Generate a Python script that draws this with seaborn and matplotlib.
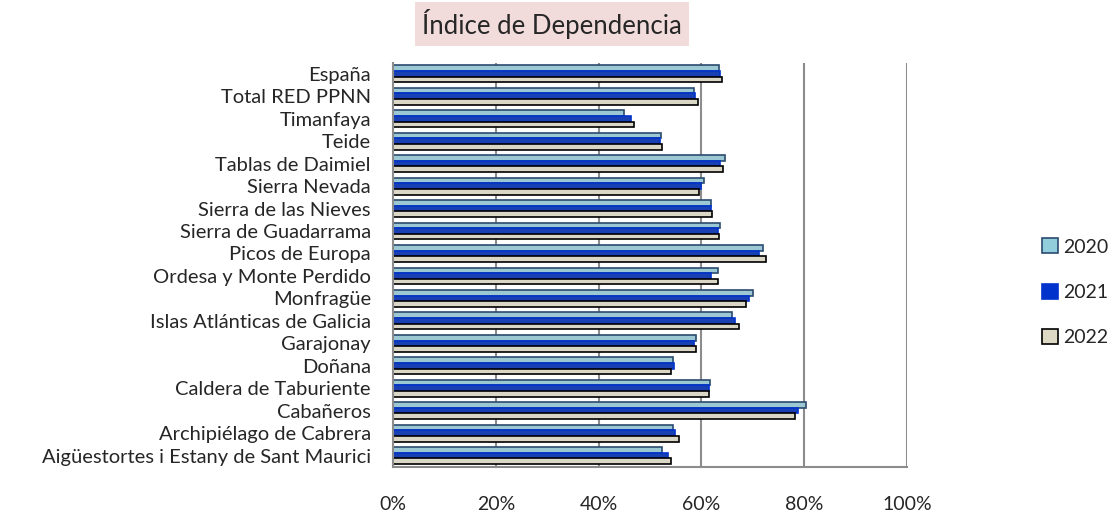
import pandas as pd
import matplotlib.pyplot as plt
import seaborn as sns
from matplotlib.patches import Patch

# Datos: índice de dependencia (%) por espacio natural
parques = ['España', 'Total RED PPNN', 'Timanfaya', 'Teide', 'Tablas de Daimiel',
           'Sierra Nevada', 'Sierra de las Nieves', 'Sierra de Guadarrama',
           'Picos de Europa', 'Ordesa y Monte Perdido', 'Monfragüe',
           'Islas Atlánticas de Galicia', 'Garajonay', 'Doñana',
           'Caldera de Taburiente', 'Cabañeros', 'Archipiélago de Cabrera',
           'Aigüestortes i Estany de Sant Maurici']
v2020 = [63.5, 58.6, 44.9, 52.1, 64.6, 60.5, 61.9, 63.7, 72.0, 63.3, 70.0, 65.9,
         58.9, 54.5, 61.6, 80.4, 54.5, 52.4]
v2021 = [63.7, 58.8, 46.2, 52.0, 63.7, 59.9, 61.9, 63.2, 71.2, 61.8, 69.3, 66.6,
         58.5, 54.6, 61.4, 78.8, 54.8, 53.4]
v2022 = [64.0, 59.3, 46.8, 52.4, 64.2, 59.6, 62.1, 63.5, 72.5, 63.3, 68.7, 67.3,
         59.0, 54.0, 61.5, 78.2, 55.6, 54.0]
anios = ['2020', '2021', '2022']

colores = ['#92CDDC', '#0033CC', '#DDD9C4']
bordes = ['#2B4A6F', '#0033CC', '#000000']

df = pd.DataFrame({
    'Parque': parques * 3,
    'Año': [a for a in anios for _ in parques],
    'Valor': v2020 + v2021 + v2022,
})

sns.set_style('white')
plt.rcParams['font.family'] = ['Lato', 'DejaVu Sans']

fig = plt.figure(figsize=(11.17, 5.13), dpi=100)
ax = fig.add_axes([0.352, 0.09, 0.46, 0.788])

sns.barplot(data=df, x='Valor', y='Parque', hue='Año', hue_order=anios,
            palette=colores, width=0.75, orient='h', ax=ax, legend=False)

for cont, borde in zip(ax.containers, bordes):
    for barra in cont:
        barra.set_edgecolor(borde)
        barra.set_linewidth(1.2)

ax.set_xlim(0, 100)
ax.set_xticks([0, 20, 40, 60, 80, 100])
ax.set_xticklabels([f'{t}%' for t in [0, 20, 40, 60, 80, 100]], fontsize=14)
ax.tick_params(axis='x', pad=21, length=0)
ax.tick_params(axis='y', labelsize=14.5, pad=16, length=0)
ax.set_xlabel('')
ax.set_ylabel('')

ax.grid(axis='x', color='#8C8C8C', linewidth=1.5)
ax.set_axisbelow(True)
for lado in ['top', 'right']:
    ax.spines[lado].set_visible(False)
for lado in ['left', 'bottom']:
    ax.spines[lado].set_color('#8C8C8C')
    ax.spines[lado].set_linewidth(1.5)

handles = [Patch(facecolor=c, edgecolor=b, linewidth=1.2) for c, b in zip(colores, bordes)]
fig.legend(handles, anios, loc='center left', bbox_to_anchor=(0.933, 0.43),
           frameon=False, fontsize=14, labelspacing=1.45, handlelength=0.8,
           handleheight=0.8, handletextpad=0.3, borderpad=0, borderaxespad=0)

fig.text(0.494, 0.953, 'Índice de Dependencia', ha='center', va='center', fontsize=18.5,
         bbox=dict(facecolor='#F2DCDB', edgecolor='none', pad=5))

fig.savefig('out.png', dpi=100)
